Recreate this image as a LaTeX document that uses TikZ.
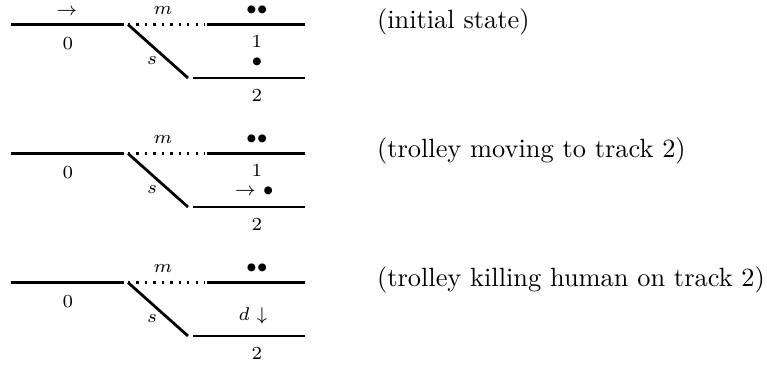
\documentclass[tikz,border=0pt]{standalone}
\begin{document}
\begin{tikzpicture}[x=0.379pt,y=-0.379pt,
  track/.style={line width=1.05pt},
  dottrack/.style={line width=1.05pt,dash pattern=on 0.9pt off 2.3pt},
  lbl/.style={inner sep=0pt,anchor=center,font=\scriptsize},
  caption/.style={inner sep=0pt,anchor=west}]
\useasboundingbox (0,0) rectangle (767,367);
\foreach \p/\dy in {a/0,b/129,c/258}{
  \begin{scope}[shift={(0,\dy)}]
    \coordinate (s0\p) at (11,24.5);
    \coordinate (e0\p) at (124,24.5);
    \coordinate (sw\p) at (128,24.5);
    \coordinate (sm\p) at (128,24.5);
    \coordinate (em\p) at (205,24.5);
    \coordinate (s1\p) at (207,24.5);
    \coordinate (e1\p) at (305,24.5);
    \coordinate (ew\p) at (188,78);
    \coordinate (s2\p) at (193,78);
    \coordinate (e2\p) at (305,78);
    \draw[track] (s0\p) -- (e0\p);
    \draw[dottrack] (sm\p) -- (em\p);
    \draw[track] (s1\p) -- (e1\p);
    \draw[track] (sw\p) -- (ew\p);
    \draw[track] (s2\p) -- (e2\p);
    \node[lbl] (zero\p) at (68,44) {$0$};
    \node[lbl] (m\p) at (163,10.5) {$m$};
    \node[lbl] (two\p) at (257,96) {$2$};
    \node[lbl] (s\p) at (152,61) {$s$};
    \node[lbl] (pp\p) at (257,10.5) {$\bullet\bullet$};
  \end{scope}
}
% panel 1
\node[lbl] (arra) at (67,11.5) {$\rightarrow$};
\node[lbl] (onea) at (257,42) {$1$};
\node[lbl] (pa) at (257,62) {$\bullet$};
\node[caption] (capa) at (376.5,21.7) {(initial state)};
% panel 2
\node[lbl] (oneb) at (257,171) {$1$};
\node[lbl] (pb) at (254.3,191.7) {$\rightarrow$ $\bullet$};
\node[caption] (capb) at (376.5,150.7) {(trolley moving to track 2)};
% panel 3
\node[lbl] (dc) at (253,316) {$d$ $\downarrow$};
\node[caption] (capc) at (376.5,279.7) {(trolley killing human on track 2)};
\end{tikzpicture}
\end{document}
